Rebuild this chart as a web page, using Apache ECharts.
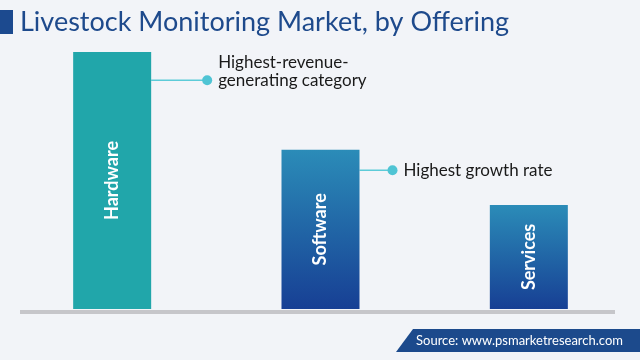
<!DOCTYPE html>
<html><head><meta charset="utf-8">
<script src="https://cdn.jsdelivr.net/npm/echarts@6/dist/echarts.min.js"></script>
<style>html,body{margin:0;padding:0;background:#f2f4f8}#c{width:640px;height:360px}</style>
</head><body><div id="c"></div>
<script>
const categories = ['Hardware', 'Software', 'Services'];
const values = [100, 62, 40.5];
const notes = ['Highest-revenue-\ngenerating category', 'Highest growth rate', ''];
const noteLevels = [89, 54, null];
const titleText = 'Livestock Monitoring Market, by Offering';
const sourceText = 'Source: www.psmarketresearch.com';

const FONT = 'Lato, "Open Sans", sans-serif';
const chart = echarts.init(document.getElementById('c'));
const blueGrad = new echarts.graphic.LinearGradient(0, 0, 0, 1, [
  { offset: 0, color: '#2b8cb8' }, { offset: 1, color: '#173f94' }
]);
const barColors = ['#21a6aa', blueGrad, blueGrad];

chart.setOption({
  backgroundColor: '#f2f4f8',
  animation: false,
  grid: { left: 8, right: 7, top: 52, bottom: 51 },
  xAxis: {
    type: 'category', data: categories,
    axisLine: { show: false }, axisTick: { show: false }, axisLabel: { show: false }
  },
  yAxis: { type: 'value', min: 0, max: 100, show: false, splitLine: { show: false } },
  series: [{
    type: 'bar', barWidth: 78,
    data: values.map((v, i) => ({ value: v, itemStyle: { color: barColors[i] } })),
    label: {
      show: true, position: 'inside', rotate: 90,
      formatter: p => p.name,
      color: '#ffffff', fontFamily: FONT, fontWeight: 'bold', fontSize: 18
    }
  }]
});

const graphics = [
  { type: 'rect', shape: { x: 0, y: 10, width: 13, height: 24 }, style: { fill: '#1c4a8f' } },
  { type: 'text', x: 20, y: 22, style: { text: titleText, fill: '#1e4a8c', font: '27px ' + FONT, verticalAlign: 'middle' } },
  { type: 'rect', shape: { x: 20, y: 310, width: 595, height: 4 }, style: { fill: '#c6c6ca' } },
  { type: 'polygon', shape: { points: [[413, 329], [640, 329], [640, 352], [396, 352]] }, style: { fill: '#1c4a8c' } },
  { type: 'text', x: 416, y: 341, style: { text: sourceText, fill: '#ffffff', font: '13px ' + FONT, verticalAlign: 'middle' } }
];

// annotations anchored via the chart's own scales
categories.forEach((c, i) => {
  if (noteLevels[i] == null) return;
  const p = chart.convertToPixel({ seriesIndex: 0 }, [c, noteLevels[i]]);
  const x0 = p[0] + 39, y = p[1];
  const xd = i === 0 ? x0 + 56 : x0 + 33;
  graphics.push({ type: 'line', shape: { x1: x0, y1: y, x2: xd, y2: y }, style: { stroke: '#5ccbd8', lineWidth: 1.5 } });
  graphics.push({ type: 'circle', shape: { cx: xd, cy: y, r: 5 }, style: { fill: '#4fc4d4' } });
  const lines = notes[i].split('\n').length;
  graphics.push({ type: 'text', x: xd + 11, y: y - (lines - 1) * 9, style: {
    text: notes[i], fill: '#1a1a1a', font: '17px ' + FONT, lineHeight: 18, verticalAlign: 'middle' } });
});
chart.setOption({ graphic: graphics });
</script></body></html>
